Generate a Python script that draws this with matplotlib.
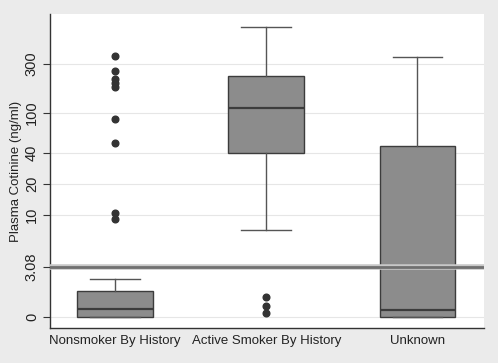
import numpy as np
import matplotlib
matplotlib.use("Agg")
import matplotlib.pyplot as plt

categories = ["Nonsmoker By History", "Active Smoker By History", "Unknown"]
# box statistics (ng/ml)
whislo = [0.0, 7.1, 0.0]
q1 = [0.0, 40.5, 0.0]
med = [1.19, 110.0, 1.16]
q3 = [1.79, 229.0, 47.0]
whishi = [2.36, 697.0, 354.0]
fliers = [
    [360.0, 258.0, 213.0, 194.0, 177.0, 86.0, 50.0, 10.5, 9.0],
    [1.57, 1.28, 1.09],
    [],
]
cutoff = 3.08
tick_vals = [0, 3.08, 10, 20, 40, 100, 300]
tick_labels = ["0", "3.08", "10", "20", "40", "100", "300"]

plt.rcParams['font.family'] = ['Liberation Sans', 'DejaVu Sans']

K = 0.004
def fwd(x):
    x = np.asarray(x, dtype=float)
    return np.where(x >= 1, np.log10(np.maximum(x, 1)), (x - 1) * K)
def inv(y):
    y = np.asarray(y, dtype=float)
    return np.where(y >= 0, 10 ** np.minimum(y, 20), y / K + 1)

fig = plt.figure(figsize=(4.98, 3.63), dpi=100, facecolor="#ebebeb")
ax = fig.add_axes([50/498, 1 - 328.3/363, 434/498, (328.3 - 14)/363])
ax.set_facecolor("white")
ax.set_yscale("function", functions=(fwd, inv))

stats = []
for i, c in enumerate(categories):
    stats.append(dict(label=c, whislo=whislo[i], q1=q1[i], med=med[i],
                      q3=q3[i], whishi=whishi[i], fliers=fliers[i]))

ax.bxp(stats, positions=[1, 2, 3], widths=0.5, patch_artist=True,
       boxprops=dict(facecolor="#8c8c8c", edgecolor="#3c3c3c", linewidth=1.0),
       medianprops=dict(color="#3c3c3c", linewidth=1.6),
       whiskerprops=dict(color="#555555", linewidth=1.0),
       capprops=dict(color="#555555", linewidth=1.0),
       capwidths=0.33,
       flierprops=dict(marker="o", markerfacecolor="#333333",
                       markeredgecolor="#333333", markersize=4.8),
       zorder=3)

ax.axhline(cutoff, color="#c8c8c8", linewidth=4.0, zorder=4)
ax.axhline(cutoff, color="#707070", linewidth=2.0, zorder=5)

ax.set_xlim(0.57, 3.44)
ax.set_ylim(inv(-0.114), inv(2.968))
ax.set_yticks(tick_vals)
ax.set_yticklabels(tick_labels, rotation=90, va="center")
ax.yaxis.set_minor_locator(matplotlib.ticker.NullLocator())
ax.set_xticks([1, 2, 3])
ax.set_xticklabels(categories)
ax.grid(axis="y", color="#e6e6e6", linewidth=0.8, zorder=0)
ax.set_axisbelow(True)

for s in ["top", "right"]:
    ax.spines[s].set_visible(False)
for s in ["left", "bottom"]:
    ax.spines[s].set_color("#333333")
    ax.spines[s].set_linewidth(1.0)

ax.tick_params(axis="y", length=5, width=0.8, color="#333333", labelsize=10.5, pad=3,
               labelcolor="#222222")
ax.tick_params(axis="x", length=0, labelsize=9.5, pad=5, labelcolor="#222222")
ax.set_ylabel("Plasma Cotinine (ng/ml)", fontsize=9.5, labelpad=2, color="#222222")

fig.savefig("out.png", dpi=100, facecolor=fig.get_facecolor())
